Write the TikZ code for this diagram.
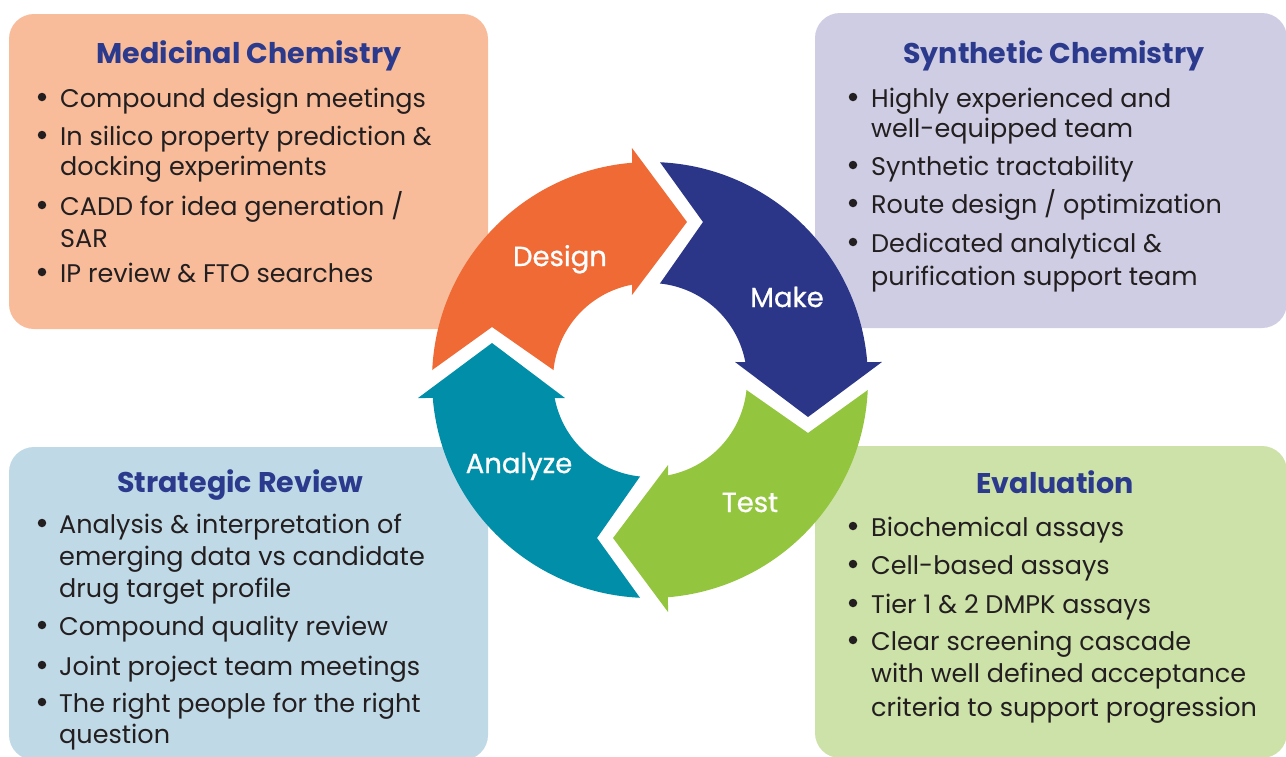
\documentclass[tikz,border=0pt]{standalone}
\usepackage{fontspec}
\setmainfont{Poppins}
\newfontfamily\lblfont[FakeBold=0.8]{Poppins}
\definecolor{peach}{RGB}{248,188,154}
\definecolor{lavender}{RGB}{207,205,228}
\definecolor{lightblue}{RGB}{192,217,230}
\definecolor{lightgreen}{RGB}{205,226,168}
\definecolor{arrorange}{RGB}{239,106,53}
\definecolor{arrnavy}{RGB}{43,54,136}
\definecolor{arrgreen}{RGB}{147,198,62}
\definecolor{arrteal}{RGB}{1,142,169}
\definecolor{titlenavy}{RGB}{43,58,140}
\definecolor{textdark}{RGB}{35,31,32}
\newcommand\cyclearrow[2]{%
  \fill[#2] (#1-87.37:218) -- (#1-71.46:166.65) -- (#1-84.11:97)
    arc[start angle=#1-84.11, end angle=#1-10.69, radius=97]
    -- (#1-11.96:86.9) -- (#1+13.18:162.3) -- (#1-4.44:232.7) -- (#1-4.73:218)
    arc[start angle=#1-4.73, end angle=#1-87.37, radius=218] -- cycle;}
\begin{document}
\begin{tikzpicture}[x=1pt,y=-1pt,
  panel/.style={rounded corners=25},
  txt/.style={anchor=base west, inner sep=0, text=textdark, font=\fontsize{25.5}{30}\selectfont},
  ttl/.style={anchor=base, inner sep=0, text=titlenavy, font=\fontsize{28.5}{32}\selectfont\bfseries},
  lbl/.style={anchor=base, inner sep=0, text=white, font=\lblfont\fontsize{27.5}{30}\selectfont},
  bul/.style={circle, fill=textdark, inner sep=0, minimum size=8.5}]
\useasboundingbox (0,0) rectangle (1286,756);
\clip (0,0) rectangle (1286,756);
% panels
\fill[panel, peach] (9,14) rectangle (488,329);
\fill[panel, lavender] (815,13) rectangle (1287,328);
\fill[panel, lightblue] (9,447) rectangle (488,760);
\fill[panel, lightgreen] (815,446) rectangle (1287,758);
% cycle
\begin{scope}[shift={(650,380)}]
  \cyclearrow{0}{arrnavy}
  \cyclearrow{90}{arrgreen}
  \cyclearrow{180}{arrteal}
  \cyclearrow{270}{arrorange}
\end{scope}
\node[lbl] (design) at (560,266) {Design};
\node[lbl] (make) at (787,307) {Make};
\node[lbl] (test) at (750,512) {Test};
\node[lbl] (analyze) at (519,473) {Analyze};
% Medicinal Chemistry
\node[ttl] (tmc) at (249,63) {Medicinal Chemistry};
\node[txt] (m1) at (60,107) {Compound design meetings};
\node[txt] (m2) at (60,145) {In silico property prediction \&};
\node[txt] (m3) at (60,175) {docking experiments};
\node[txt] (m4) at (60,215) {CADD for idea generation /};
\node[txt] (m5) at (60,247) {SAR};
\node[txt] (m6) at (60,282) {IP review \& FTO searches};
\node[bul] (bm1) at (42,97) {};
\node[bul] (bm2) at (42,135) {};
\node[bul] (bm4) at (42,205) {};
\node[bul] (bm6) at (42,272) {};
% Synthetic Chemistry
\node[ttl] (tsc) at (1054,63) {Synthetic Chemistry};
\node[txt] (s1) at (871,107) {Highly experienced and};
\node[txt] (s2) at (871,137) {well-equipped team};
\node[txt] (s3) at (871,175) {Synthetic tractability};
\node[txt] (s4) at (871,213) {Route design / optimization};
\node[txt] (s5) at (871,252) {Dedicated analytical \&};
\node[txt] (s6) at (871,285) {purification support team};
\node[bul] (bs1) at (853,97) {};
\node[bul] (bs3) at (853,165) {};
\node[bul] (bs4) at (853,203) {};
\node[bul] (bs5) at (853,242) {};
% Strategic Review
\node[ttl] (tsr) at (240,492) {Strategic Review};
\node[txt] (r1) at (59,533) {Analysis \& interpretation of};
\node[txt] (r2) at (59,565) {emerging data vs candidate};
\node[txt] (r3) at (59,597) {drug target profile};
\node[txt] (r4) at (59,635) {Compound quality review};
\node[txt] (r5) at (59,675) {Joint project team meetings};
\node[txt] (r6) at (59,712) {The right people for the right};
\node[txt] (r7) at (59,743) {question};
\node[bul] (br1) at (42,523) {};
\node[bul] (br4) at (42,625) {};
\node[bul] (br5) at (42,665) {};
\node[bul] (br6) at (42,702) {};
% Evaluation
\node[ttl] (tev) at (1055,493) {Evaluation};
\node[txt] (e1) at (871,536) {Biochemical assays};
\node[txt] (e2) at (871,574) {Cell-based assays};
\node[txt] (e3) at (871,613) {Tier 1 \& 2 DMPK assays};
\node[txt] (e4) at (871,650) {Clear screening cascade};
\node[txt] (e5) at (871,682) {with well defined acceptance};
\node[txt] (e6) at (871,716) {criteria to support progression};
\node[bul] (be1) at (853,526) {};
\node[bul] (be2) at (853,564) {};
\node[bul] (be3) at (853,603) {};
\node[bul] (be4) at (853,640) {};
\end{tikzpicture}
\end{document}
